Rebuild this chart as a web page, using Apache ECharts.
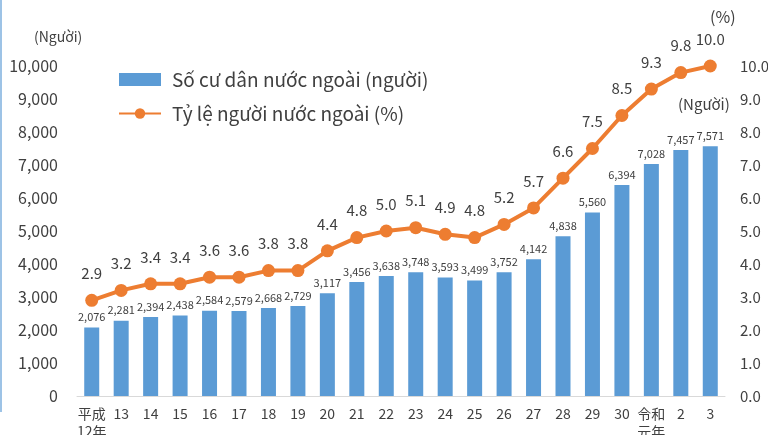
<!DOCTYPE html>
<html><head><meta charset="utf-8">
<script src="https://cdn.jsdelivr.net/npm/echarts@6/dist/echarts.min.js"></script>
<style>html,body{margin:0;padding:0;background:#fff}#c{width:768px;height:435px}</style>
</head><body><div id="c"></div>
<script>
const categories = ['平成\n12年','13','14','15','16','17','18','19','20','21','22','23','24','25','26','27','28','29','30','令和\n元年','2','3'];
const residents = [2076,2281,2394,2438,2584,2579,2668,2729,3117,3456,3638,3748,3593,3499,3752,4142,4838,5560,6394,7028,7457,7571];
const ratio = [2.9,3.2,3.4,3.4,3.6,3.6,3.8,3.8,4.4,4.8,5.0,5.1,4.9,4.8,5.2,5.7,6.6,7.5,8.5,9.3,9.8,10.0];
const barName = 'Số cư dân nước ngoài (người)';
const lineName = 'Tỷ lệ người nước ngoài (%)';
const FONT = '"Noto Sans CJK JP","Noto Sans",sans-serif';

const chart = echarts.init(document.getElementById('c'));
chart.setOption({
  animation:false,
  textStyle:{fontFamily:FONT},
  grid:{left:77,right:43,top:66,bottom:39,outerBoundsMode:'none',containLabel:false},
  legend:{
    orient:'vertical',left:113,top:65,itemGap:15,itemWidth:42,itemHeight:13,
    textStyle:{fontSize:19,color:'#404040',fontFamily:FONT,padding:[0,0,0,6]},
    data:[{name:barName,icon:'rect'},{name:lineName}]
  },
  xAxis:{
    type:'category',data:categories,
    axisLine:{lineStyle:{color:'#D9D9D9',width:1}},
    axisTick:{show:false},
    axisLabel:{color:'#404040',fontSize:14,interval:0,margin:9,lineHeight:18,verticalAlign:'top'}
  },
  yAxis:[
    {type:'value',min:0,max:10000,interval:1000,
     axisLine:{show:false},axisTick:{show:false},splitLine:{show:false},
     axisLabel:{color:'#404040',fontSize:16,margin:19,formatter:v=>v.toLocaleString('en-US')}},
    {type:'value',min:0,max:10,interval:1,
     axisLine:{show:false},axisTick:{show:false},splitLine:{show:false},
     axisLabel:{color:'#404040',fontSize:15,margin:15,formatter:v=>v.toFixed(1)}}
  ],
  series:[
    {name:barName,type:'bar',data:residents,barWidth:15,
     itemStyle:{color:'#5B9BD5'},
     label:{show:true,position:'top',distance:5,fontSize:11,color:'#404040',formatter:p=>p.value.toLocaleString('en-US')}},
    {name:lineName,type:'line',yAxisIndex:1,data:ratio,
     symbol:'circle',symbolSize:13,
     lineStyle:{color:'#ED7D31',width:4},itemStyle:{color:'#ED7D31'},
     label:{show:true,position:'top',distance:13,fontSize:15,color:'#404040',formatter:p=>p.value.toFixed(1)}}
  ],
  graphic:[
    {type:'rect',shape:{x:0,y:0,width:2,height:412},style:{fill:'#9DC3E6'}},
    {type:'text',left:34,top:30,style:{text:'(Người)',fontSize:14,fill:'#404040',fontFamily:FONT}},
    {type:'text',left:710,top:9,style:{text:'(%)',fontSize:16,fill:'#404040',fontFamily:FONT}},
    {type:'text',left:678,top:97,style:{text:'(Người)',fontSize:15,fill:'#404040',fontFamily:FONT}}
  ]
});
</script></body></html>
